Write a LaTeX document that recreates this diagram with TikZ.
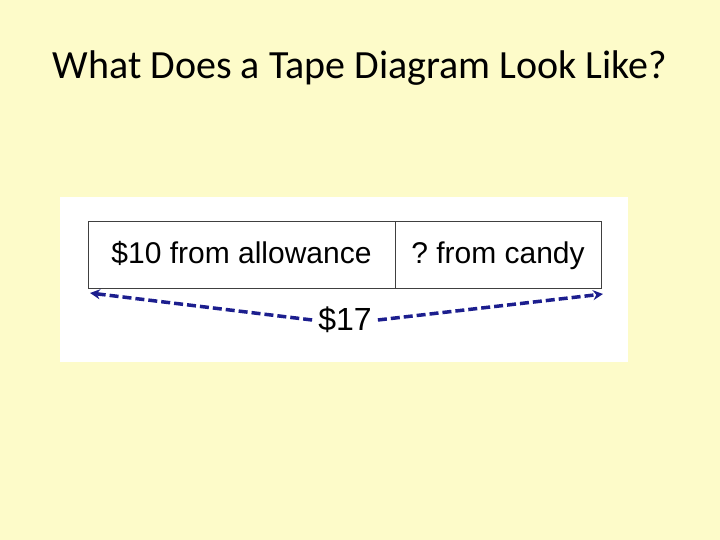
\documentclass[tikz,border=0pt]{standalone}
\usepackage{fontspec}
\setmainfont{Carlito}
\newfontfamily\tapefont{Liberation Sans}
\usetikzlibrary{positioning,arrows.meta}
\definecolor{slidebg}{HTML}{FDFBC9}
\definecolor{tapeblue}{HTML}{1C1E8E}
\frenchspacing
\begin{document}
\begin{tikzpicture}[
    x=1pt, y=-1pt,
    part/.style={draw=black!75, line width=1pt, minimum height=66pt,
        inner sep=0pt, outer sep=0pt, text height=22pt, text depth=5pt,
        font=\tapefont\fontsize{30}{34}\selectfont},
    total/.style={draw=tapeblue, dash pattern=on 9pt off 4pt,
        line width=3.5pt, -{Stealth[length=10pt,width=10pt]}}
]

% Slide
\fill[slidebg] (0,0) rectangle (720,540);
\node (title) at (360,68) {\fontsize{40}{44}\selectfont What Does a Tape Diagram Look Like?};

% Picture area
\fill[white] (60,197) rectangle (628,362);

% Tape
\node[part, minimum width=307pt, anchor=north west] (allowance) at (88,222) {\$10 from allowance};
\node[part, minimum width=206pt, right=0pt of allowance] (candy) {? from candy};

% Total
\node[font=\tapefont\fontsize{32}{36}\selectfont, inner sep=6pt] (sum) at (345,320) {\$17};
\coordinate (leftend) at (90,293);
\coordinate (rightend) at (603,294);
\draw[total] (sum.west) -- (leftend);
\draw[total] (sum.east) -- (rightend);

\end{tikzpicture}
\end{document}
